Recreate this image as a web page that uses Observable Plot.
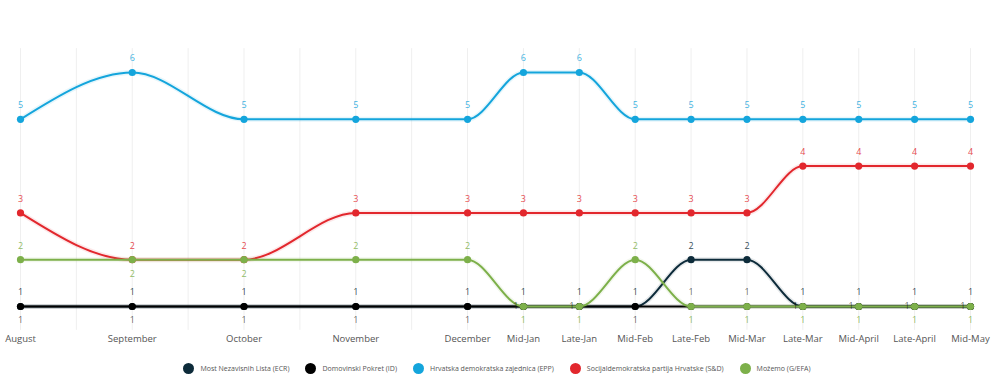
<!DOCTYPE html>
<html><head><meta charset="utf-8">
<script src="https://cdn.jsdelivr.net/npm/d3@7"></script>
<script src="https://cdn.jsdelivr.net/npm/@observablehq/plot@0.6"></script>
<style>
body{margin:0;background:#fff;font-family:"Open Sans",sans-serif;}
#legend{display:flex;justify-content:center;align-items:center;gap:16px;font-size:7px;color:#555;height:11px;margin-top:11px;}
.item{display:flex;align-items:center;gap:6px}
.sw{width:11px;height:11px;border-radius:50%;display:inline-block}
</style></head><body><div id="chart"></div><div id="legend"></div>
<script>
const periods = ["August","September","October","November","December","Mid-Jan","Late-Jan","Mid-Feb","Late-Feb","Mid-Mar","Late-Mar","Mid-April","Late-April","Mid-May"];
const slots = [0,2,4,6,8,9,10,11,12,13,14,15,16,17];
const parties = ["Most Nezavisnih Lista (ECR)","Domovinski Pokret (ID)","Hrvatska demokratska zajednica (EPP)","Socijaldemokratska partija Hrvatske (S&D)","Možemo (G/EFA)"];
const colors = ["#0d2b3a","#000000","#14a5dc","#e2272d","#7db04a"];
const most   = [1,1,1,1,1,1,1,1,2,2,1,1,1,1];
const dp     = [1,1,1,1,1,1,1,1,1,1,1,1,1,1];
const hdz    = [5,6,5,5,5,6,6,5,5,5,5,5,5,5];
const sdp    = [3,2,2,3,3,3,3,3,3,3,4,4,4,4];
const mozemo = [2,2,2,2,2,1,1,2,1,1,1,1,1,1];
const seriesValues = [most, dp, hdz, sdp, mozemo];

const series = parties.map((p, si) => periods.map((per, i) => ({party: p, si, period: per, x: slots[i], i, v: seriesValues[si][i]})));
const rows = series.flat();

// label placement: points sharing a value at the same period are spread above / below / left
const labels = [];
periods.forEach((per, i) => {
  const groups = d3.group(rows.filter(r => r.i === i), r => r.v);
  for (const [v, g] of groups) {
    g.sort((a, b) => a.si - b.si);
    g.forEach((r, k) => {
      let pos = "above";
      if (g.length > 1) pos = k === 0 ? "above" : (k === g.length - 1 ? "below" : "left");
      labels.push({...r, pos});
    });
  }
});

const marks = [
  Plot.ruleX(d3.range(0, 18), {x: d => d, y1: 6.51, y2: 0.49, stroke: "#efefef", strokeWidth: 1})
];
series.forEach((s, si) => {
  marks.push(Plot.lineY(s, {x: "x", y: "v", stroke: colors[si], strokeWidth: 5, strokeOpacity: 0.1, curve: "monotone-x"}));
  marks.push(Plot.lineY(s, {x: "x", y: "v", stroke: colors[si], strokeWidth: 2, curve: "monotone-x"}));
  marks.push(Plot.dot(s, {x: "x", y: "v", fill: colors[si], r: 3.6}));
});
parties.forEach((p, si) => {
  const mine = labels.filter(d => d.si === si);
  const st = {x: "x", y: "v", fontSize: 9, fontFamily: "Open Sans", text: d => String(d.v), fill: colors[si], fillOpacity: si === 1 ? 0.6 : 0.85};
  marks.push(Plot.text(mine.filter(d => d.pos === "above"), {...st, dy: -14}));
  marks.push(Plot.text(mine.filter(d => d.pos === "below"), {...st, dy: 14}));
  marks.push(Plot.text(mine.filter(d => d.pos === "left"), {...st, dx: -5, textAnchor: "end"}));
});
marks.push(Plot.axisX({ticks: slots, tickFormat: t => periods[slots.indexOf(t)], tickSize: 0, tickPadding: 29, fontSize: 9.5, fill: "#555", fontFamily: "Open Sans", label: null}));

const chart = Plot.plot({
  width: 994, height: 352,
  marginLeft: 20, marginRight: 24, marginTop: 72, marginBottom: 46,
  x: {domain: [0, 17], axis: null, label: null},
  y: {domain: [1, 6], axis: null},
  style: {fontFamily: "Open Sans", background: "#fff", overflow: "visible"},
  marks
});
document.getElementById("chart").appendChild(chart);

const legend = document.getElementById("legend");
parties.forEach((p, i) => {
  const it = document.createElement("span");
  it.className = "item";
  it.innerHTML = `<span class="sw" style="background:${colors[i]}"></span><span></span>`;
  it.lastChild.textContent = p;
  legend.appendChild(it);
});
</script></body></html>
